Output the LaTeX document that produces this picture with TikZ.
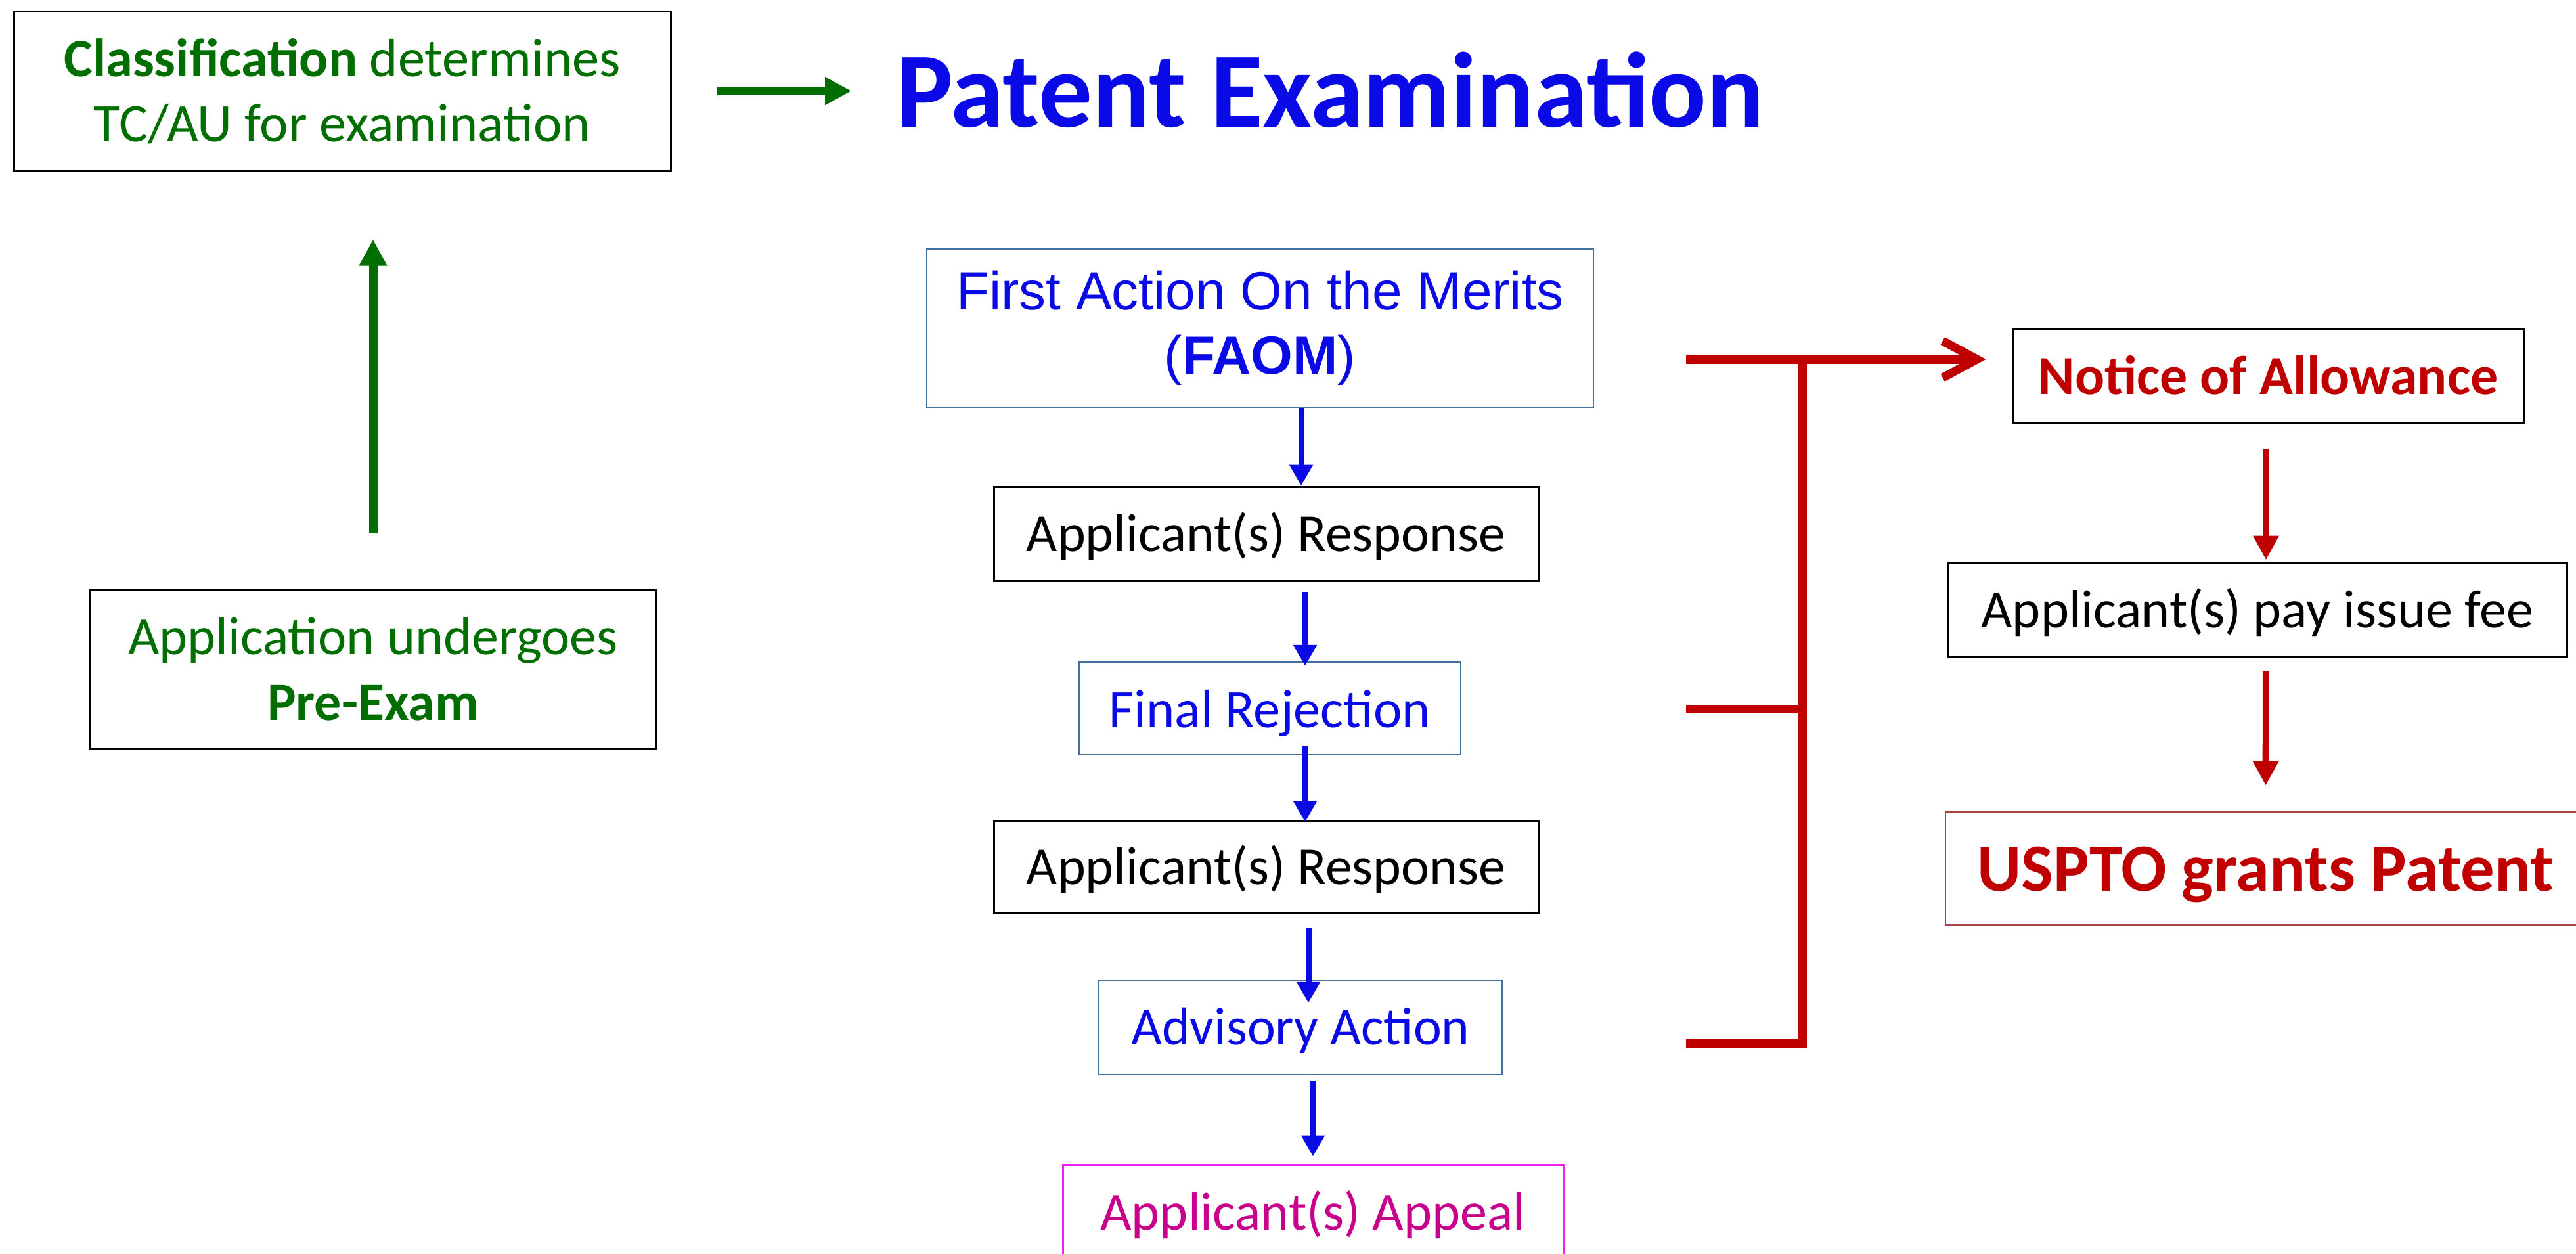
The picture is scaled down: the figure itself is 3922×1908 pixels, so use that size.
\documentclass[tikz,border=0pt]{standalone}
\usepackage{fontspec}
\setmainfont{Carlito}
\newfontfamily\arialf{Liberation Sans}
\usetikzlibrary{arrows.meta}
\definecolor{gr}{HTML}{006E00}
\definecolor{tblue}{HTML}{0A0AE6}
\definecolor{steel}{HTML}{41719C}
\definecolor{dred}{HTML}{C00000}
\definecolor{magb}{HTML}{F020F0}
\definecolor{magt}{HTML}{C8008C}
\definecolor{usb}{HTML}{A84444}
\tikzset{
  box/.style={draw=black, line width=0.75pt, inner sep=0pt, align=center},
  sbox/.style={box, draw=steel, line width=0.6pt},
  garrow/.style={draw=gr, line width=3.25pt, -{Triangle[length=10pt,width=10pt]}},
  barrow/.style={draw=tblue, line width=2.25pt, -{Triangle[length=8pt,width=8.5pt]}},
  rarrow/.style={draw=dred, line width=2.5pt, -{Triangle[length=9.25pt,width=9.25pt]}},
  rline/.style={draw=dred, line width=3.25pt},
  txt/.style={font=\fontsize{20.4}{24.75}\selectfont}
}
\begin{document}
\begin{tikzpicture}[x=0.25pt,y=-0.25pt]
\useasboundingbox (0,0) rectangle (3922,1908);
\fill[white] (0,0) rectangle (3922,1908);
\clip (0,0) rectangle (3922,1908);

% left column
\node[box, text=gr, font=\fontsize{20.6}{24.75}\selectfont, minimum width=250pt, minimum height=60.75pt] (cls) at (521,138.5)
  {\textbf{Classification} determines\\TC/AU for examination};
\node[box, text=gr, font=\fontsize{20.5}{25}\selectfont, minimum width=215.5pt, minimum height=60.75pt] (pre) at (568,1018.5)
  {Application undergoes\\\textbf{Pre-Exam}};
\node[anchor=base, inner sep=0pt, text=tblue, font=\fontsize{40.8}{48}\selectfont\bfseries] (title) at (2025,193) {Patent Examination};

\draw[garrow, shorten <=17.25pt, shorten >=16.75pt] (cls.east) -- (cls.east -| title.west);
\draw[garrow, shorten <=21pt, shorten >=25.75pt] (pre.north) -- (pre.north |- cls.south);

% middle column
\node[sbox, text=tblue, font=\arialf\fontsize{20.5}{24.5}\selectfont, minimum width=253.75pt, minimum height=60.25pt] (faom) at (1918.5,499.5)
  {First Action On the Merits\\(\textbf{FAOM})};
\node[box, txt, text height=13.25pt, text depth=0pt, minimum width=207.25pt, minimum height=35.75pt] (resp1) at (1927.5,812.5) {Applicant(s) Response};
\node[sbox, font=\fontsize{20.6}{24.75}\selectfont, text=tblue, text height=14.25pt, text depth=0pt, minimum width=145.25pt, minimum height=35.25pt] (frej) at (1933.5,1078.5) {Final Rejection};
\node[box, txt, text height=13.25pt, text depth=0pt, minimum width=207.25pt, minimum height=35.25pt] (resp2) at (1927.5,1319.5) {Applicant(s) Response};
\node[sbox, font=\fontsize{20.3}{24.75}\selectfont, text=tblue, text height=12.75pt, text depth=0pt, minimum width=153.5pt, minimum height=35.75pt] (adv) at (1980,1564.5) {Advisory Action};
\node[box, draw=magb, font=\fontsize{20.5}{24.75}\selectfont, text=magt, text height=9.5pt, text depth=0pt, minimum width=190.5pt, minimum height=40pt] (appeal) at (1999,1853) {Applicant(s) Appeal};

\draw[barrow] ([xshift=15.625pt]faom.south) -- ([xshift=13.375pt]resp1.north);
\draw[barrow, shorten <=3.75pt, shorten >=-1.75pt] ([xshift=14.875pt]resp1.south) -- ([xshift=13.375pt]frej.north);
\draw[barrow, shorten <=-3.75pt, shorten >=-1pt] ([xshift=13.375pt]frej.south) -- ([xshift=14.875pt]resp2.north);
\draw[barrow, shorten <=5pt, shorten >=-8.75pt] ([xshift=16.125pt]resp2.south) -- ([xshift=3pt]adv.north);
\draw[barrow, shorten <=2pt, shorten >=2.75pt] ([xshift=4.75pt]adv.south) -- (appeal.north);

% right column
\node[box, text=dred, font=\fontsize{21}{25}\selectfont\bfseries, text height=14.25pt, text depth=0pt, minimum width=194.25pt, minimum height=35.75pt] (notice) at (3453.5,571.5) {Notice of Allowance};
\node[box, font=\fontsize{20.5}{25}\selectfont, text height=13.5pt, text depth=0pt, minimum width=235.5pt, minimum height=35.5pt] (fee) at (3437,928) {Applicant(s) pay issue fee};
\node[box, draw=usb, line width=0.6pt, text=dred, font=\fontsize{25.7}{30}\selectfont\bfseries, text height=17pt, text depth=0pt, minimum width=243.75pt, minimum height=43pt] (uspto) at (3449.5,1322) {USPTO grants Patent};

\draw[rarrow, shorten <=9.75pt, shorten >=0.75pt] ([xshift=-0.875pt]notice.south) -- ([xshift=3.25pt]fee.north);
\draw[rarrow, shorten <=5.25pt, shorten >=9.75pt] ([xshift=3.25pt]fee.south) -- ([xshift=0pt]uspto.north);

% red bracket
\coordinate (b1) at (2567,547);
\coordinate (b2) at (2567,1079);
\coordinate (b3) at (2567,1588);
\coordinate (bt) at (2744,547);
\coordinate (bb) at (2744,1588);
\draw[rline, line join=miter] (b3) -- (bb) -- (bt);
\draw[rline] (b2) -- (b2 -| bt);
\draw[rline, -{Straight Barb[length=13pt,width=14pt]}, shorten >=10pt] (b1) -- (b1 -| notice.west);
\end{tikzpicture}
\end{document}
